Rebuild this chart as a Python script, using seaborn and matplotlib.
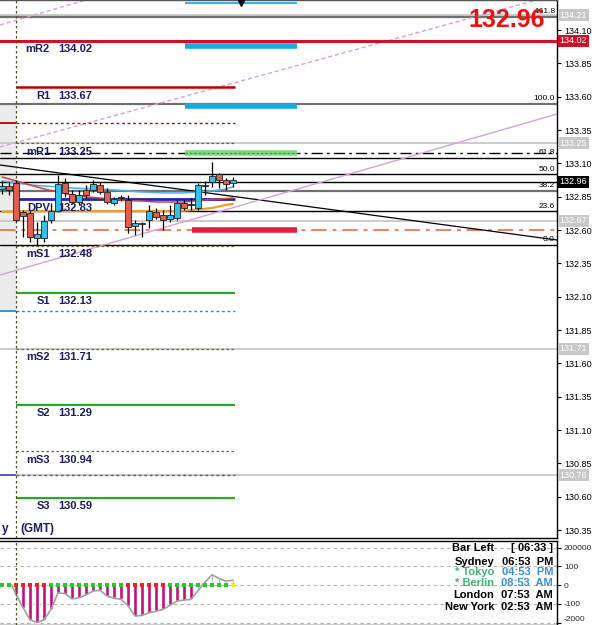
import numpy as np
import pandas as pd
import matplotlib
matplotlib.use("Agg")
import matplotlib.pyplot as plt
import matplotlib.transforms as mtrans
import seaborn as sns

sns.set_theme(style="white")
plt.rcParams['font.family'] = ['Liberation Sans', 'DejaVu Sans']

# ---------------- data ----------------
bar_index = list(range(-2, 32))
opens  = [132.91, 132.93, 132.95, 132.735, 132.73, 132.54, 132.54, 132.675, 132.74, 132.95, 132.87, 132.81,
          132.90, 132.90, 132.94, 132.885, 132.80, 132.84, 132.825, 132.63, 132.645, 132.675, 132.735, 132.71,
          132.68, 132.69, 132.80, 132.79, 132.765, 132.93, 132.96, 133.02, 132.975, 132.95]
highs  = [132.97, 132.96, 132.975, 132.75, 132.74, 132.66, 132.71, 132.80, 133.01, 132.99, 132.90, 132.90,
          132.94, 132.975, 132.96, 132.915, 132.85, 132.86, 132.86, 132.675, 132.66, 132.79, 132.765, 132.75,
          132.79, 132.825, 132.825, 132.84, 132.95, 132.97, 133.11, 133.03, 132.99, 133.00]
lows   = [132.87, 132.86, 132.66, 132.55, 132.51, 132.49, 132.51, 132.65, 132.735, 132.85, 132.795, 132.79,
          132.84, 132.885, 132.87, 132.795, 132.79, 132.82, 132.575, 132.56, 132.55, 132.615, 132.68, 132.60,
          132.66, 132.675, 132.75, 132.75, 132.75, 132.86, 132.92, 132.915, 132.90, 132.92]
closes = [132.93, 132.90, 132.675, 132.705, 132.55, 132.57, 132.67, 132.74, 132.945, 132.875, 132.81, 132.86,
          132.86, 132.945, 132.885, 132.81, 132.83, 132.845, 132.62, 132.65, 132.65, 132.74, 132.70, 132.675,
          132.71, 132.80, 132.765, 132.795, 132.94, 132.94, 133.005, 132.975, 132.945, 132.975]

ma_index  = [-2, 0, 2, 4, 6, 8, 10, 12, 14, 16, 18, 20, 22, 24, 26, 28, 30, 31]
ma_red    = [132.998, 132.968, 132.938, 132.908, 132.885, 132.863, 132.848, 132.84, 132.83, 132.82, 132.818,
             132.81, 132.81, 132.81, 132.82, 132.83, 132.836, 132.84]
ma_blue   = [132.968, 132.953, 132.938, 132.93, 132.923, 132.915, 132.91, 132.908, 132.90, 132.893, 132.885,
             132.88, 132.878, 132.878, 132.885, 132.893, 132.908, 132.923]
ma_orange = [132.735, 132.74, 132.742, 132.742, 132.742, 132.742, 132.742, 132.742, 132.742, 132.742, 132.742,
             132.742, 132.742, 132.745, 132.754, 132.765, 132.788, 132.795]

pivot_names  = ["mR2", "R1", "mR1", "DPV", "mS1", "S1", "mS2", "S2", "mS3", "S3"]
pivot_values = [134.02, 133.67, 133.25, 132.83, 132.48, 132.13, 131.71, 131.29, 130.94, 130.59]

fib_levels = [0.0, 23.6, 38.2, 50.0, 61.8, 100.0, 161.8]
fib_low, fib_high = 132.49, 133.545

marker_prices = [134.21, 133.25, 132.67, 131.71, 130.76]
current_price = 132.96

price_ticks = [130.35, 130.60, 130.85, 131.10, 131.35, 131.60, 131.85, 132.10, 132.35, 132.60, 132.85,
               133.10, 133.35, 133.60, 133.85, 134.10]

hist_index = list(range(0, 32))
hist_values = [-50, -120, -185, -200, -185, -130, -42, -45, -74, -68, -52, -32, -28, -58, -70, -76,
               -110, -165, -162, -148, -140, -130, -108, -85, -80, -76, -30, 15, 55, 35, 21, 26]
dot_colors = ["g", "g"] + ["r"] * 5 + ["g"] * 11 + ["r"] * 6 + ["g"] * 9 + ["y"]
osc_ticks = [200, 100, 0, -100, -200]
osc_labels = ["200000", "100", "0", "-100", "-2000"]

session_names = ["Bar Left", "Sydney", "* Tokyo", "* Berlin", "London", "New York"]
session_times = ["[ 06:33 ]", "06:53  PM", "04:53  PM", "08:53  AM", "07:53  AM", "02:53  AM"]

# ---------------- layout ----------------
W, H = 595, 625
fig = plt.figure(figsize=(W / 100, H / 100), dpi=100)
fig.patch.set_facecolor("white")

XMIN, XMAX = -16 / 7, (557 - 16) / 7
YTOP = 134.325
YBOT = 134.325 - 538 * 0.0075

ax = fig.add_axes([0, 87 / H, 557 / W, 538 / H])
ax2 = fig.add_axes([0, 0, 557 / W, 84 / H])
for a in (ax, ax2):
    a.set_facecolor("white")
    a.set_xlim(XMIN, XMAX)
    a.spines["left"].set_visible(False)
    for s in ("right", "bottom", "top"):
        a.spines[s].set_color("black")
        a.spines[s].set_linewidth(1.0)
    a.set_xticks([])
    a.grid(False)
ax.set_ylim(YBOT, YTOP)
ax.spines["top"].set_color("#555555")

def px2bar(x):
    return (x - 16) / 7

x_piv0, x_piv1 = px2bar(16), px2bar(235)
x_seg0, x_seg1 = px2bar(185), px2bar(297)

# left gray strip
ax.fill_between([XMIN, 0], 132.0, 133.545, color="#ececec", zorder=0, lw=0)

# full width horizontal reference lines
for p in marker_prices:
    ax.axhline(p, color="#c8c8c8", lw=1.3, zorder=1)
for lvl in fib_levels:
    p = fib_low + (fib_high - fib_low) * lvl / 100
    col = "#707070" if lvl in (38.2, 100.0, 161.8) else "black"
    lw = 1.6 if lvl in (38.2, 100.0, 161.8) else 1.0
    ax.axhline(p, color=col, lw=lw, zorder=2)
    ax.text(px2bar(555), p + 0.012, f"{lvl:.1f}", ha="right", va="bottom", fontsize=6, color="black", zorder=6)
ax.axhline(current_price, color="black", lw=1.0, zorder=2)
ax.axhline(133.18, color="black", lw=1.0, ls=(0, (8, 3, 2, 3)), zorder=2)
ax.axhline(132.60, color="#f08060", lw=1.4, ls=(0, (8, 3, 2, 3)), zorder=2)
ax.axhline(pivot_values[0], color="#d0102a", lw=2.2, zorder=3)

# pivot segments
ax.hlines(pivot_values[1], x_piv0, x_piv1, color="#c00000", lw=1.8, zorder=3)
for v in (pivot_values[2], pivot_values[4], pivot_values[6], pivot_values[8]):
    ax.hlines(v, x_piv0, x_piv1, color="#6b6b20", lw=0.9, ls=(0, (2, 2)), zorder=3)
ax.hlines(pivot_values[3], x_piv0, x_piv1, color="#2323b0", lw=2.0, zorder=3)
for v in (pivot_values[5], pivot_values[7], pivot_values[9]):
    ax.hlines(v, x_piv0, x_piv1, color="#20b020", lw=1.5, zorder=3)
# previous day levels
for v, c in ((133.40, "#c00000"), (131.99, "#2090c0"), (130.76, "#5050c0")):
    ax.hlines(v, XMIN, 0, color=c, lw=1.3, zorder=3)
    ax.hlines(v, 0, x_piv1, color=c, lw=1.0, ls=(0, (2, 2)), zorder=3)

# thick zone segments
ax.hlines(134.305, x_seg0, x_seg1, color="#3ab4e8", lw=1.5, zorder=3)
ax.hlines(133.98, x_seg0, x_seg1, color="#1aa8e0", lw=4, zorder=3)
ax.hlines(133.53, x_seg0, x_seg1, color="#1aa8e0", lw=4, zorder=3)
ax.hlines(133.177, x_seg0, x_seg1, color="#7ad87a", lw=4, zorder=3)
ax.hlines(133.177, x_seg0, x_seg1, color="#30a030", lw=0.8, ls=(0, (2, 2)), zorder=3)
ax.hlines(132.60, px2bar(192), x_seg1, color="#e0203c", lw=4, zorder=3)
ax.plot([px2bar(241)], [134.30], marker="v", color="black", ms=5, zorder=5)

# trendlines
ax.plot([XMIN, XMAX], [133.0875, 132.525], color="black", lw=0.9, zorder=2)
ax.plot([XMIN, XMAX], [132.2625, 133.47], color="#d8a0d8", lw=1.0, zorder=2)
ax.plot([XMIN, XMAX], [133.2225, 134.367], color="#d8a0d8", lw=1.0, ls=(0, (3, 2)), zorder=2)
ax.plot([XMIN, px2bar(120)], [134.1375, 134.4], color="#d8a0d8", lw=1.0, ls=(0, (3, 2)), zorder=2)

# vertical day separator
for a in (ax, ax2):
    a.axvline(0, color="#505020", lw=0.9, ls=(0, (2, 2)), zorder=4)

# moving averages
ma_df = pd.DataFrame({"x": ma_index, "red": ma_red, "blue": ma_blue, "orange": ma_orange})
sns.lineplot(data=ma_df, x="x", y="orange", ax=ax, color="#f0a020", lw=1.6, zorder=4)
sns.lineplot(data=ma_df, x="x", y="blue", ax=ax, color="#50b0e8", lw=1.1, zorder=4)
sns.lineplot(data=ma_df, x="x", y="red", ax=ax, color="#d04040", lw=1.1, zorder=4)

# candles
cdf = pd.DataFrame({"i": bar_index, "o": opens, "h": highs, "l": lows, "c": closes})
ax.vlines(cdf["i"], cdf["l"], cdf["h"], color="black", lw=0.9, zorder=5)
up = cdf["c"] >= cdf["o"]
for is_up, fc in ((True, "#30c0e8"), (False, "#e06050")):
    sub = cdf[up == is_up]
    bottom = np.minimum(sub["o"], sub["c"])
    height = np.maximum(np.abs(sub["c"] - sub["o"]), 0.004)
    ax.bar(sub["i"], height, bottom=bottom, width=0.72, color=fc, edgecolor="#202020", lw=0.6, zorder=6)

# pivot labels
for n, v in zip(pivot_names, pivot_values):
    ax.annotate(n, (px2bar(50), v), xytext=(0, -2.5), textcoords="offset points", ha="right", va="top",
                fontsize=8, fontweight="bold", color="#1c1c60", zorder=7)
    ax.annotate(f"{v:.2f}", (px2bar(58), v), xytext=(0, -2.5), textcoords="offset points", ha="left",
                va="top", fontsize=8, fontweight="bold", color="#1c1c60", zorder=7)

ax.text(px2bar(2), YBOT + 0.02, "y", ha="left", va="bottom", fontsize=8.5, fontweight="bold", color="#1c1c60")
ax.text(px2bar(20), YBOT + 0.02, "(GMT)", ha="left", va="bottom", fontsize=8.5, fontweight="bold", color="#1c1c60")

ax.text(px2bar(545), 134.175, f"{current_price:.2f}", ha="right", va="center", fontsize=18,
        fontweight="bold", color="#ee1111", zorder=8)

# right axis
ax.yaxis.tick_right()
ax.set_yticks(price_ticks)
ax.set_yticklabels([f"{t:.2f}" for t in price_ticks])
ax.tick_params(axis="y", which="both", right=True, length=3, width=0.8, color="black", labelsize=6.5,
               labelcolor="black", pad=2)
ax.set_ylabel("")
ax.set_xlabel("")

bt = mtrans.blended_transform_factory(ax.transAxes, ax.transData)
for p in marker_prices:
    ax.text(1.005, p, f"{p:.2f}", transform=bt, ha="left", va="center", fontsize=6.5, color="white",
            bbox=dict(boxstyle="square,pad=0.15", fc="#c8c8c8", ec="none"), clip_on=False, zorder=9)
ax.text(1.005, pivot_values[0], f"{pivot_values[0]:.2f}", transform=bt, ha="left", va="center", fontsize=6.5,
        color="white", bbox=dict(boxstyle="square,pad=0.15", fc="#d0102a", ec="none"), clip_on=False, zorder=9)
ax.text(1.005, current_price, f"{current_price:.2f}", transform=bt, ha="left", va="center", fontsize=6.5,
        color="white", bbox=dict(boxstyle="square,pad=0.15", fc="black", ec="none"), clip_on=False, zorder=9)

# ---------------- oscillator panel ----------------
ax2.set_ylim(-213, 235)
for t in osc_ticks:
    ax2.axhline(t, color="#b0b0b0", lw=0.8, ls=(0, (3, 3)), zorder=1)
hdf = pd.DataFrame({"i": hist_index, "v": hist_values})
neg = hdf[hdf["i"] <= 25]
pos = hdf[hdf["i"] > 25]
ax2.bar(neg["i"], neg["v"], width=0.6, color="#c0107a", zorder=2)
ax2.bar(pos["i"], pos["v"], width=0.35, color="#909090", zorder=2)
line_df = pd.DataFrame({"i": [-0.6] + hist_index, "v": [0] + hist_values})
sns.lineplot(data=line_df, x="i", y="v", ax=ax2, color="#a0a0a0", lw=1.2, zorder=3)
cmap = {"g": "#22cc22", "r": "#ee2222", "y": "#eeee22"}
dot_df = pd.DataFrame({"i": bar_index, "v": [0] * len(bar_index), "c": dot_colors})
sns.scatterplot(data=dot_df, x="i", y="v", hue="c", palette=cmap, marker="s", s=9, linewidth=0,
                ax=ax2, legend=False, zorder=4)
ax2.yaxis.tick_right()
ax2.set_yticks(osc_ticks)
ax2.set_yticklabels(osc_labels)
ax2.tick_params(axis="y", right=True, length=3, width=0.8, color="black", labelsize=6, pad=2)
ax2.set_xlabel("")
ax2.set_ylabel("")
ax2.get_yticklabels()[-1].set_verticalalignment("bottom")

# session clock
ys = [548, 562, 572, 583, 595, 607]
for n, tm, y in zip(session_names, session_times, ys):
    ncol = "#3cb371" if n.startswith("*") else "black"
    tcol = "#3a8fd8" if n.startswith("*") else "black"
    fig.text(494 / W, 1 - y / H, n, ha="right", va="center", fontsize=8, fontweight="bold", color=ncol)
    fig.text(553 / W, 1 - y / H, tm, ha="right", va="center", fontsize=8, fontweight="bold", color=tcol)

fig.savefig("out.png", dpi=100, facecolor="white")
